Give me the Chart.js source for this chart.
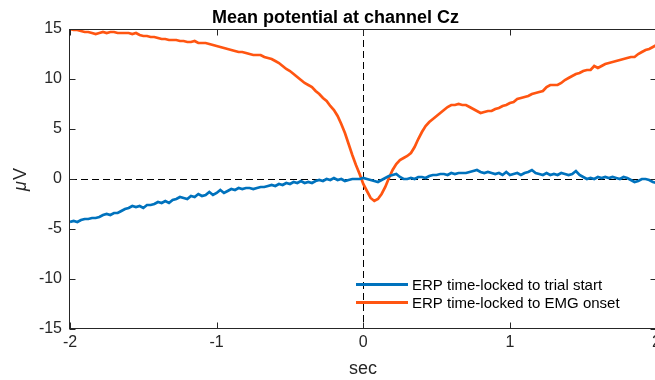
<!DOCTYPE html>
<html>
<head>
<meta charset="utf-8">
<script src="https://cdn.jsdelivr.net/npm/chart.js@4"></script>
<style>
html,body{margin:0;padding:0;background:#fff;overflow:hidden;width:655px;height:380px;}
#wrap{width:665px;height:380px;position:relative;}
canvas{display:block;}
</style>
</head>
<body>
<div id="wrap"><canvas id="c" width="665" height="380" style="width:665px;height:380px"></canvas></div>
<script>
// sample grid (sec)
const tStart = -2;
const tStep = 0.025;

const titleText = "Mean potential at channel Cz";
const xLabel = "sec";
const yLabel = "\u03BCV";
const xTicks = [-2, -1, 0, 1, 2];
const yTicks = [-15, -10, -5, 0, 5, 10, 15];
const seriesNames = ["ERP time-locked to trial start", "ERP time-locked to EMG onset"];

const trialStart = [
-4.3,-4.2,-4.3,-4.1,-4.0,-4.0,-3.9,-3.9,-3.8,-3.6,-3.5,-3.6,-3.4,-3.4,-3.2,-3.0,-2.9,-2.7,-2.8,-2.7,
-2.9,-2.6,-2.6,-2.5,-2.3,-2.4,-2.2,-2.4,-2.1,-2.0,-1.8,-1.9,-2.0,-1.7,-1.8,-1.5,-1.7,-1.6,-1.3,-1.6,
-1.4,-1.1,-1.4,-1.2,-1.0,-1.1,-0.9,-1.0,-0.9,-0.9,-1.0,-0.9,-0.8,-0.8,-0.7,-0.6,-0.7,-0.5,-0.6,-0.4,
-0.5,-0.3,-0.4,-0.2,-0.4,-0.3,-0.4,-0.2,-0.1,-0.2,0.0,-0.1,0.1,-0.1,0.0,-0.2,-0.1,0.0,0.0,0.0,
0.1,0.0,-0.1,-0.2,-0.3,-0.1,0.1,0.3,0.4,0.5,0.2,0.0,0.0,0.1,0.0,0.2,0.2,0.1,0.3,0.4,
0.4,0.5,0.5,0.4,0.6,0.5,0.6,0.6,0.6,0.7,0.8,0.9,0.7,0.6,0.7,0.6,0.5,0.6,0.4,0.7,
0.4,0.5,0.6,0.4,0.6,0.7,0.9,0.6,0.5,0.4,0.6,0.4,0.5,0.4,0.6,0.5,0.4,0.5,0.8,0.4,
0.2,0.0,0.1,0.0,0.2,0.1,0.2,0.1,0.2,0.1,0.0,0.2,0.1,-0.1,-0.3,-0.2,0.0,0.0,-0.1,-0.3,
-0.4
];

const emgOnset = [
15.0,14.9,14.9,14.8,14.7,14.7,14.6,14.5,14.6,14.7,14.6,14.7,14.7,14.6,14.6,14.6,14.6,14.5,14.6,14.4,
14.3,14.3,14.2,14.2,14.1,14.0,14.0,13.9,13.9,13.9,13.8,13.8,13.7,13.7,13.8,13.6,13.6,13.6,13.5,13.4,
13.3,13.2,13.1,13.0,12.9,12.8,12.7,12.7,12.6,12.5,12.4,12.4,12.4,12.2,12.1,12.0,11.8,11.6,11.3,11.0,
10.8,10.5,10.2,9.9,9.6,9.4,9.2,8.8,8.5,8.1,7.8,7.3,6.9,6.3,5.5,4.6,3.5,2.4,1.4,0.5,
-0.5,-1.2,-1.9,-2.2,-2.0,-1.5,-0.8,0.1,0.9,1.5,1.9,2.1,2.3,2.6,3.2,4.0,4.7,5.3,5.7,6.0,
6.3,6.6,6.9,7.2,7.4,7.4,7.5,7.4,7.4,7.2,7.0,6.8,6.6,6.7,6.8,6.8,7.0,7.1,7.3,7.4,
7.6,7.7,8.0,8.1,8.2,8.3,8.5,8.6,8.7,8.8,9.2,9.4,9.4,9.4,9.6,9.9,10.1,10.3,10.5,10.6,
10.8,10.9,10.9,11.3,11.1,11.3,11.5,11.6,11.7,11.8,11.9,12.0,12.1,12.2,12.2,12.5,12.7,12.9,13.0,13.2,
13.4
];

const seriesColors = ["#0072BD", "#FF5511"];
const axisColor = "#262626";
const fontFam = "'Liberation Sans', Arial, Helvetica, sans-serif";

function toPoints(arr) {
  return arr.map((v, i) => ({ x: +(tStart + i * tStep).toFixed(3), y: v }));
}

const decor = {
  id: 'decor',
  beforeDatasetsDraw(chart) {
    const { ctx, chartArea: a, scales: { x, y } } = chart;
    ctx.save();
    ctx.strokeStyle = '#000';
    ctx.lineWidth = 1;
    ctx.setLineDash([7, 4]);
    const x0 = Math.round(x.getPixelForValue(0)) + 0.5;
    const y0 = Math.round(y.getPixelForValue(0)) + 0.5;
    ctx.beginPath();
    ctx.moveTo(a.left, y0); ctx.lineTo(a.right, y0);
    ctx.moveTo(x0, a.top); ctx.lineTo(x0, a.bottom);
    ctx.stroke();
    ctx.restore();
  },
  afterDraw(chart) {
    const { ctx, chartArea: a, scales: { x, y } } = chart;
    ctx.save();
    ctx.strokeStyle = axisColor;
    ctx.lineWidth = 1;
    ctx.setLineDash([]);
    const L = Math.round(a.left) - 0.5, R = Math.round(a.right) - 0.5;
    const T = Math.round(a.top) + 0.5, B = Math.round(a.bottom) - 0.5;
    ctx.strokeRect(L, T, R - L, B - T);
    ctx.beginPath();
    xTicks.forEach(v => {
      const px = Math.round(x.getPixelForValue(v)) + 0.5;
      ctx.moveTo(px, B); ctx.lineTo(px, B - 6);
      ctx.moveTo(px, T); ctx.lineTo(px, T + 6);
    });
    yTicks.forEach(v => {
      const py = Math.round(y.getPixelForValue(v)) + 0.5;
      ctx.moveTo(L, py); ctx.lineTo(L + 6, py);
      ctx.moveTo(R, py); ctx.lineTo(R - 6, py);
    });
    ctx.stroke();

    // title
    ctx.fillStyle = '#000';
    ctx.font = "bold 18px " + fontFam;
    ctx.textAlign = 'left';
    ctx.textBaseline = 'alphabetic';
    ctx.fillText(titleText, 212, 22.5);

    // x label
    ctx.fillStyle = axisColor;
    ctx.font = "18px " + fontFam;
    ctx.textAlign = 'center';
    ctx.fillText(xLabel, 363, 373.5);

    // y label
    ctx.save();
    ctx.translate(26, 180);
    ctx.rotate(-Math.PI / 2);
    ctx.textBaseline = 'alphabetic';
    ctx.font = "italic 18px " + fontFam;
    const mu = yLabel.charAt(0), rest = yLabel.slice(1);
    const wMu = ctx.measureText(mu).width;
    ctx.font = "18px " + fontFam;
    const wRest = ctx.measureText(rest).width;
    const start = -(wMu + wRest) / 2;
    ctx.textAlign = 'left';
    ctx.font = "italic 18px " + fontFam;
    ctx.fillText(mu, start, 0);
    ctx.font = "18px " + fontFam;
    ctx.fillText(rest, start + wMu + 1, 0);
    ctx.restore();

    // legend
    ctx.font = "15px " + fontFam;
    ctx.textAlign = 'left';
    ctx.textBaseline = 'alphabetic';
    const rows = [284.5, 302.5];
    chart.data.datasets.forEach((ds, i) => {
      ctx.strokeStyle = ds.borderColor;
      ctx.lineWidth = 3;
      ctx.beginPath();
      ctx.moveTo(356, rows[i]); ctx.lineTo(408, rows[i]);
      ctx.stroke();
      ctx.fillStyle = '#000';
      ctx.fillText(ds.label, 412, rows[i] + 5);
    });
    ctx.restore();
  }
};

new Chart(document.getElementById('c'), {
  type: 'line',
  data: {
    datasets: [
      { label: seriesNames[0], data: toPoints(trialStart), borderColor: seriesColors[0], borderWidth: 2.7, pointRadius: 0, tension: 0, fill: false },
      { label: seriesNames[1], data: toPoints(emgOnset), borderColor: seriesColors[1], borderWidth: 2.7, pointRadius: 0, tension: 0, fill: false }
    ]
  },
  options: {
    responsive: false,
    maintainAspectRatio: false,
    animation: false,
    devicePixelRatio: 1,
    layout: { padding: { left: 0, right: 7, top: 29, bottom: 0 }, autoPadding: false },
    plugins: { legend: { display: false }, title: { display: false }, tooltip: { enabled: false } },
    scales: {
      x: {
        type: 'linear', min: -2, max: 2,
        afterFit(s) { s.height = 51; },
        afterBuildTicks(s) { s.ticks = xTicks.map(v => ({ value: v })); },
        grid: { display: false, drawTicks: false, tickLength: 0 }, border: { display: false },
        ticks: { color: axisColor, font: { family: fontFam, size: 16 }, padding: 4, maxRotation: 0, autoSkip: false }
      },
      y: {
        type: 'linear', min: -15, max: 15,
        afterFit(s) { s.width = 70; },
        afterBuildTicks(s) { s.ticks = yTicks.map(v => ({ value: v })); },
        grid: { display: false, drawTicks: false, tickLength: 0 }, border: { display: false },
        ticks: { color: axisColor, font: { family: fontFam, size: 16 }, padding: 8, autoSkip: false }
      }
    }
  },
  plugins: [decor]
});
</script>
</body>
</html>
